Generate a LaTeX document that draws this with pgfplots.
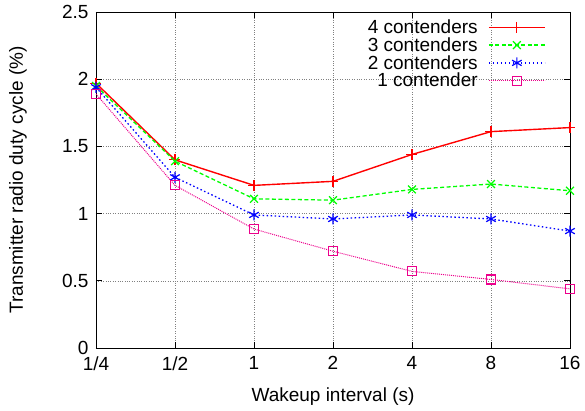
\documentclass[border=0pt]{standalone}
\usepackage{pgfplots}
\pgfplotsset{compat=1.18}
\usepackage{fontspec}
\setmainfont{Liberation Sans}
\begin{document}
\begin{tikzpicture}[font=\fontsize{19bp}{23bp}\selectfont]
\useasboundingbox (-96bp,-63bp) rectangle (489bp,348bp);
\begin{axis}[
  at={(0,0)}, anchor=south west,
  scale only axis, width=474bp, height=336bp,
  xmin=0, xmax=6, ymin=0, ymax=2.5,
  xtick={0,1,2,3,4,5,6},
  xticklabels={1/4,1/2,1,2,4,8,16},
  ytick={0,0.5,1,1.5,2,2.5},
  /pgf/number format/assume math mode=true,
  tick align=inside, tick pos=both,
  major tick length=6bp,
  grid=major,
  major grid style={gray, dotted, line width=0.6pt},
  axis line style={black, line width=0.8pt},
  every tick/.style={black, line width=0.8pt},
  xticklabel style={yshift=-5bp},
  yticklabel style={xshift=-4bp},
  xlabel={Wakeup interval (s)},
  ylabel={Transmitter radio duty cycle (\%)},
  xlabel style={at={(axis description cs:0.5,-0.1458)}, anchor=center},
  ylabel style={at={(axis description cs:-0.1646,0.5)}, anchor=center},
  legend style={draw=none, fill=none, at={(rel axis cs:0.951,0.982)}, anchor=north east,
    legend cell align=right, row sep=1.5bp, column sep=10bp, inner sep=1bp,
    nodes={inner sep=0.5bp}},
  legend plot pos=right,
  legend image code/.code={\draw[mark repeat=2,mark phase=2,#1] plot coordinates {(0bp,0bp)(28bp,0bp)(56bp,0bp)};},
  legend image post style={line width=1.4pt},
]
\addplot[red, line width=1.4pt, mark=+, mark size=5.5bp, mark options={solid, line width=1.2pt}]
  coordinates {(0,1.97)(1,1.40)(2,1.21)(3,1.24)(4,1.44)(5,1.61)(6,1.64)};
\addlegendentry{4 contenders}
\addplot[color={rgb,1:red,0;green,1;blue,0}, line width=1.3pt, dash pattern=on 4bp off 2.5bp, mark=x, mark size=5.5bp, mark options={solid, line width=1.2pt}]
  coordinates {(0,1.95)(1,1.39)(2,1.11)(3,1.10)(4,1.18)(5,1.22)(6,1.17)};
\addlegendentry{3 contenders}
\addplot[blue, line width=1.3pt, dash pattern=on 1.5bp off 2.5bp, mark=asterisk, mark size=5.5bp, mark options={solid, line width=1.2pt}]
  coordinates {(0,1.94)(1,1.27)(2,0.99)(3,0.96)(4,0.99)(5,0.96)(6,0.87)};
\addlegendentry{2 contenders}
\addplot[magenta, line width=1pt, dash pattern=on 1bp off 1bp, mark=square, mark size=4.5bp, mark options={solid, line width=1.2pt}]
  coordinates {(0,1.89)(1,1.21)(2,0.885)(3,0.72)(4,0.57)(5,0.51)(6,0.44)};
\addlegendentry{1 contender}
\end{axis}
\end{tikzpicture}
\end{document}
